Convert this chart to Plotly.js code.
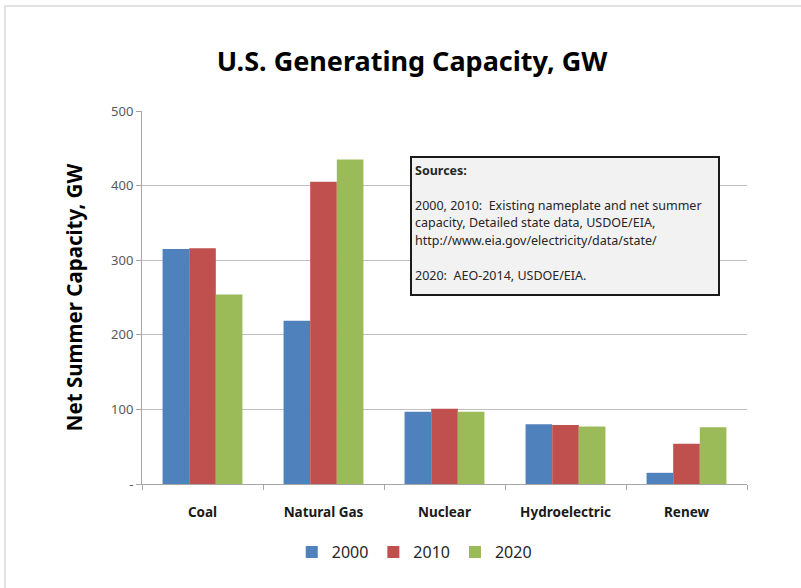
<!DOCTYPE html>
<html>
<head>
<meta charset="utf-8">
<script src="https://cdn.plot.ly/plotly-3.0.1.min.js"></script>
<style>html,body{margin:0;padding:0;background:#fff;}#chart{width:801px;height:588px;}</style>
</head>
<body>
<div id="chart"></div>
<script>
const categories = ["Coal", "Natural Gas", "Nuclear", "Hydroelectric", "Renew"];
const seriesNames = ["2000", "2010", "2020"];
const values2000 = [315, 219, 97, 80, 15];
const values2010 = [316, 405, 101, 79, 54];
const values2020 = [254, 435, 97, 77, 76];
const yTickVals = [0, 100, 200, 300, 400, 500];
const yTickText = ["-", "100", "200", "300", "400", "500"];
const sourceLines = [
  "<b>Sources:</b>",
  "2000, 2010:  Existing nameplate and net summer",
  "capacity, Detailed state data, USDOE/EIA,",
  "http://www.eia.gov/electricity/data/state/",
  "2020:  AEO-2014, USDOE/EIA."
];
const colors = ["#4f81bd", "#c0504d", "#9bbb59"];
const allValues = [values2000, values2010, values2020];

const font = "Noto Sans, Open Sans, Liberation Sans, sans-serif";

// pixel helpers for paper coordinates (plot area 142..747 x 111..484)
const PL = 142, PR = 747, PT = 111, PB = 484;
const px = x => (x - PL) / (PR - PL);
const py = y => 1 - (y - PT) / (PB - PT);
const sourceLineY = [170, 205, 222.5, 240, 275];

const traces = seriesNames.map((name, i) => ({
  type: "bar",
  name: name,
  x: categories,
  y: allValues[i],
  marker: {color: colors[i], line: {width: 0}},
  hoverinfo: "x+y+name"
}));

const layout = {
  width: 801,
  height: 588,
  margin: {l: PL, r: 801 - PR, t: PT, b: 588 - PB},
  paper_bgcolor: "#ffffff",
  plot_bgcolor: "#ffffff",
  barmode: "group",
  bargap: 0.34,
  bargroupgap: 0,
  showlegend: true,
  title: {
    text: "<b>U.S. Generating Capacity, GW</b>",
    font: {family: font, size: 27, color: "#000000"},
    x: 412 / 801, xanchor: "center", xref: "container",
    y: 1 - 62/588, yanchor: "middle", yref: "container"
  },
  xaxis: {
    type: "category",
    showline: true, linecolor: "#a6a6a6", linewidth: 1,
    ticks: "outside", tickson: "boundaries", ticklen: 5, tickcolor: "#a6a6a6",
    tickfont: {family: font, size: 13.5, color: "#1a1a1a", weight: "bold"},
    showgrid: false, zeroline: false,
    ticklabelstandoff: 16
  },
  yaxis: {
    range: [0, 500],
    tickvals: yTickVals,
    ticktext: yTickText,
    showline: true, linecolor: "#a6a6a6", linewidth: 1,
    ticks: "outside", ticklen: 5, tickcolor: "#a6a6a6",
    tickfont: {family: font, size: 13, color: "#595959"},
    showgrid: true, gridcolor: "#bfbfbf", gridwidth: 1,
    zeroline: false,
    ticklabelstandoff: 0,
    title: {
      text: "<b>Net Summer Capacity, GW</b>",
      font: {family: font, size: 20.5, color: "#000000"},
      standoff: 22
    }
  },
  legend: {
    orientation: "h",
    x: 0.45, xanchor: "center",
    y: py(552), yanchor: "middle",
    font: {family: font, size: 16, color: "#262626"},
    itemwidth: 30,
    traceorder: "normal"
  },
  annotations: sourceLines.map((t, i) => ({
    xref: "paper", yref: "paper",
    x: px(414), xanchor: "left",
    y: py(sourceLineY[i]), yanchor: "middle",
    showarrow: false,
    align: "left",
    text: t,
    font: {family: font, size: 12.5, color: "#262626"},
    borderpad: 0
  })),
  shapes: [{
    type: "rect", xref: "paper", yref: "paper", layer: "below",
    x0: px(5), x1: px(820),
    y0: py(600), y1: py(6),
    line: {color: "#d9d9d9", width: 1.5},
    fillcolor: "rgba(0,0,0,0)"
  }, {
    type: "rect", xref: "paper", yref: "paper", layer: "above",
    x0: px(411), x1: px(719),
    y0: py(295), y1: py(157),
    line: {color: "#1a1a1a", width: 2},
    fillcolor: "#f2f2f2"
  }]
};

Plotly.newPlot("chart", traces, layout, {displayModeBar: false});
</script>
</body>
</html>
